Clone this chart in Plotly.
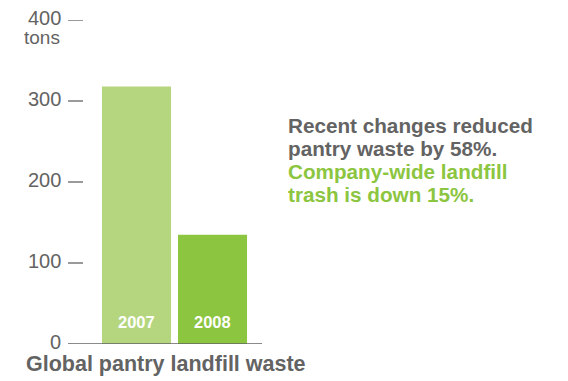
import plotly.graph_objects as go

years = ["2007", "2008"]
waste_tons = [318, 135]
bar_colors = ["#b5d67f", "#8cc53f"]
tick_values = [0, 100, 200, 300, 400]
tick_labels = ["0", "100", "200", "300", "400"]
unit_label = "tons"
chart_title = "Global pantry landfill waste"
note_lines = ["Recent changes reduced", "pantry waste by 58%.",
              "Company-wide landfill", "trash is down 15%."]
note_colors = ["#636363", "#636363", "#8cc53f", "#8cc53f"]

W, H = 568, 381
L, R, T, B = 68, 262, 19.5, 344.5
GRAY = "#636363"
FONT = "Liberation Sans, Arial, Helvetica, sans-serif"

def px(x):
    return (x - L) / (R - L)

def py(y):
    return (B - y) / (B - T)

fig = go.Figure()
fig.add_trace(go.Bar(
    x=[0, 1], y=waste_tons, width=0.908,
    marker=dict(color=bar_colors, line=dict(width=0)),
    hoverinfo="skip",
))

annotations = []
shapes = []
for i, yr in enumerate(years):
    annotations.append(dict(x=i, xref="x", y=0, yref="y", text="<b>" + yr + "</b>",
                            showarrow=False, xanchor="center", yanchor="middle", yshift=22,
                            font=dict(size=16.5, color="white", family=FONT)))
for v, lab in zip(tick_values, tick_labels):
    annotations.append(dict(x=px(63), xref="paper", y=v, yref="y", text=lab,
                            showarrow=False, xanchor="right", yanchor="middle", yshift=2.5,
                            font=dict(size=20, color=GRAY, family=FONT)))
    if v != 0:
        shapes.append(dict(type="line", xref="paper", yref="y", x0=0, x1=px(83),
                           y0=v, y1=v, line=dict(color=GRAY, width=1.3)))
shapes.append(dict(type="line", xref="paper", yref="y", x0=0, x1=1, y0=0, y1=0,
                   line=dict(color=GRAY, width=1.3)))

annotations.append(dict(x=px(62), xref="paper", y=py(37), yref="paper", text=unit_label,
                        showarrow=False, xanchor="right", yanchor="middle",
                        font=dict(size=19, color=GRAY, family=FONT)))
annotations.append(dict(x=px(24), xref="paper", y=py(365), yref="paper",
                        text="<b>" + chart_title + "</b>",
                        showarrow=False, xanchor="left", yanchor="middle",
                        font=dict(size=21.5, color=GRAY, family=FONT)))
for i, (line, col) in enumerate(zip(note_lines, note_colors)):
    annotations.append(dict(x=px(286), xref="paper", y=py(125 + 23.2 * i), yref="paper",
                            text="<b>" + line + "</b>",
                            showarrow=False, xanchor="left", yanchor="middle",
                            font=dict(size=20.7, color=col, family=FONT)))

fig.update_layout(
    width=W, height=H,
    margin=dict(l=L, r=W - R, t=T, b=H - B),
    paper_bgcolor="white", plot_bgcolor="white",
    showlegend=False,
    xaxis=dict(range=[-0.901, 1.651], visible=False, fixedrange=True),
    yaxis=dict(range=[0, 400], visible=False, fixedrange=True),
    annotations=annotations, shapes=shapes,
)
fig.write_html("out.html", config={"displayModeBar": False})
